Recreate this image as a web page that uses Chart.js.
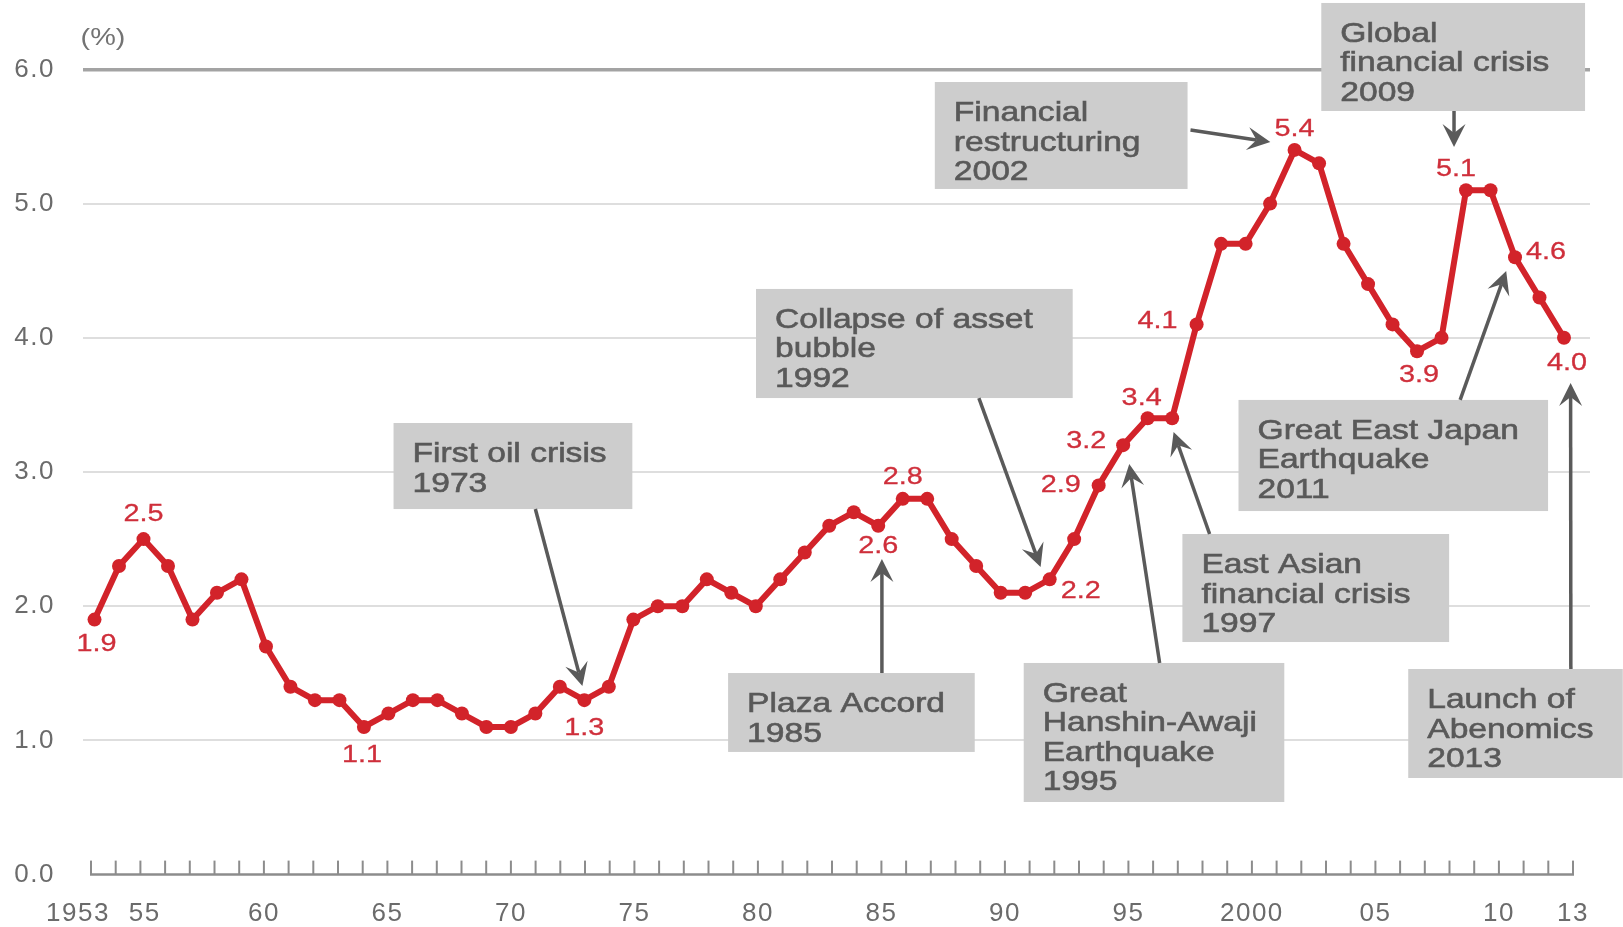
<!DOCTYPE html>
<html>
<head>
<meta charset="utf-8">
<script src="https://cdn.jsdelivr.net/npm/chart.js@4.4.1/dist/chart.umd.min.js"></script>
<style>
html,body{margin:0;padding:0;background:#ffffff;}
#wrap{width:1623px;height:927px;position:relative;}
</style>
</head>
<body>
<div id="wrap"><canvas id="c" width="1623" height="927"></canvas></div>
<script>
// ---------------- DATA ----------------
const years = [1953,1954,1955,1956,1957,1958,1959,1960,1961,1962,
               1963,1964,1965,1966,1967,1968,1969,1970,1971,1972,
               1973,1974,1975,1976,1977,1978,1979,1980,1981,1982,
               1983,1984,1985,1986,1987,1988,1989,1990,1991,1992,
               1993,1994,1995,1996,1997,1998,1999,2000,2001,2002,
               2003,2004,2005,2006,2007,2008,2009,2010,2011,2012,
               2013];
const unemploymentRate = [1.9,2.3,2.5,2.3,1.9,2.1,2.2,1.7,1.4,1.3,
                          1.3,1.1,1.2,1.3,1.3,1.2,1.1,1.1,1.2,1.4,
                          1.3,1.4,1.9,2.0,2.0,2.2,2.1,2.0,2.2,2.4,
                          2.6,2.7,2.6,2.8,2.8,2.5,2.3,2.1,2.1,2.2,
                          2.5,2.9,3.2,3.4,3.4,4.1,4.7,4.7,5.0,5.4,
                          5.3,4.7,4.4,4.1,3.9,4.0,5.1,5.1,4.6,4.3,
                          4.0];
const xTickYears  = [1953,1955,1960,1965,1970,1975,1980,1985,1990,1995,2000,2005,2010,2013];
const xTickLabels = ['1953','55','60','65','70','75','80','85','90','95','2000','05','10','13'];
const yTickValues = [0,1,2,3,4,5,6];
const yTickLabels = ['0.0','1.0','2.0','3.0','4.0','5.0','6.0'];
const unitLabel = '(%)';
const labelledYears = [1953,1955,1964,1973,1985,1986,1992,1994,1995,1996,1998,2002,2007,2009,2011,2013];
const eventTexts = [
  ['First oil crisis','1973'],
  ['Plaza Accord','1985'],
  ['Collapse of asset','bubble','1992'],
  ['Financial','restructuring','2002'],
  ['Global','financial crisis','2009'],
  ['Great East Japan','Earthquake','2011'],
  ['East Asian','financial crisis','1997'],
  ['Great','Hanshin-Awaji','Earthquake','1995'],
  ['Launch of','Abenomics','2013']
];

// ---------------- LAYOUT / STYLE ----------------
const RED = '#d2232a';
const LABEL_RED = '#cf2f3b';
const GREY_TEXT = '#6b6b6b';
const BOX_FILL = '#cdcdcd';
const BOX_TEXT = '#595959';
const ARROW = '#5a5a5a';
const FONT = '"Liberation Sans", Arial, Helvetica, sans-serif';

// label padding tweaks for the crowded first two year labels
const xLabelPad = {1953: ['', '   '], 1955: [' ', '']};

// data label offsets (px) from the point, by labelled year
const labelOffsets = {
  1953:[2,25], 1955:[0,-25], 1964:[-2,28], 1973:[0,28], 1985:[0,21], 1986:[0,-21],
  1992:[31,12], 1994:[-38,0], 1995:[-37,-4], 1996:[-6,-20], 1998:[-39,-3],
  2002:[0,-21], 2007:[2,24], 2009:[-10,-21], 2011:[31,-5], 2013:[3,26]
};
// callout boxes in data coordinates: [xLeft, yTop, xRight, yBottom, arrowFromX, arrowFromY, tipX, tipY]
const calloutLayout = [
  [1965.21,3.365,1974.96,2.724, 1971.00,2.724, 1972.92,1.405],
  [1978.87,1.502,1988.94,0.914, 1985.15,1.502, 1985.15,2.352],
  [1980.01,4.364,1992.94,3.551, 1989.11,3.551, 1991.63,2.292],
  [1987.31,5.906,1997.63,5.109, 1997.75,5.548, 2001.01,5.459],
  [2003.09,6.495,2013.86,5.690, 2008.51,5.690, 2008.51,5.422],
  [1999.71,3.537,2012.35,2.709, 2008.76,3.537, 2010.64,4.498],
  [1997.42,2.538,2008.31,1.733, 1998.53,2.538, 1997.06,3.298],
  [1990.94,1.577,2001.58,0.541, 1996.49,1.577, 1995.25,3.060],
  [2006.64,1.532,2015.40,0.720, 2013.28,1.532, 2013.27,3.663]
];

function stretchedText(ctx, txt, x, y, sx, strokeW) {
  ctx.save();
  ctx.translate(x, y);
  ctx.scale(sx, 1);
  ctx.fillText(txt, 0, 0);
  if (strokeW) { ctx.lineWidth = strokeW; ctx.strokeText(txt, 0, 0); }
  ctx.restore();
}
function drawArrow(ctx, x1, y1, x2, y2) {
  const ang = Math.atan2(y2 - y1, x2 - x1);
  const ux = Math.cos(ang), uy = Math.sin(ang);
  const L = 23, W = 11.5, N = 14;
  const bx = x2 - ux * N, by = y2 - uy * N;
  ctx.beginPath(); ctx.moveTo(x1, y1); ctx.lineTo(bx, by); ctx.stroke();
  ctx.beginPath();
  ctx.moveTo(x2, y2);
  ctx.lineTo(x2 - ux * L - uy * W, y2 - uy * L + ux * W);
  ctx.lineTo(bx, by);
  ctx.lineTo(x2 - ux * L + uy * W, y2 - uy * L - ux * W);
  ctx.closePath(); ctx.fill();
}

const decorPlugin = {
  id: 'decor',
  beforeDraw(chart) {
    // wider tick text, closer to the stretched lettering of the original
    chart.ctx.letterSpacing = '1.5px';
  },
  beforeDatasetsDraw(chart) {
    const {ctx, scales: {xAxis, y}, chartArea} = chart;
    ctx.letterSpacing = '0px';
    const y0 = y.getPixelForValue(0);
    ctx.save();
    ctx.strokeStyle = '#8c8c8c';
    ctx.lineWidth = 2.5;
    ctx.beginPath();
    ctx.moveTo(xAxis.getPixelForValue(years[0]) - 1, y0);
    ctx.lineTo(xAxis.getPixelForValue(years[years.length - 1]) + 1, y0);
    ctx.stroke();
    ctx.lineWidth = 2;
    years.forEach(v => {
      const px = xAxis.getPixelForValue(v);
      ctx.beginPath(); ctx.moveTo(px, y0); ctx.lineTo(px, y0 - 14); ctx.stroke();
    });
    ctx.fillStyle = '#737373';
    ctx.font = '24px ' + FONT;
    ctx.textAlign = 'center';
    ctx.textBaseline = 'middle';
    stretchedText(ctx, unitLabel, chartArea.left + 20, chartArea.top - 31, 1.2);
    ctx.restore();
  },
  afterDatasetsDraw(chart) {
    const {ctx, scales: {x, y}} = chart;
    const meta = chart.getDatasetMeta(0);
    ctx.save();
    ctx.letterSpacing = '0px';
    // data labels
    ctx.fillStyle = LABEL_RED;
    ctx.strokeStyle = LABEL_RED;
    ctx.font = '24px ' + FONT;
    ctx.textAlign = 'center';
    ctx.textBaseline = 'middle';
    labelledYears.forEach(yr => {
      const i = years.indexOf(yr);
      const pt = meta.data[i];
      const off = labelOffsets[yr] || [0, -22];
      stretchedText(ctx, unemploymentRate[i].toFixed(1), pt.x + off[0], pt.y + off[1], 1.2, 0.3);
    });
    // callouts
    calloutLayout.forEach((c, k) => {
      const left = x.getPixelForValue(c[0]), top = y.getPixelForValue(c[1]);
      const right = x.getPixelForValue(c[2]), bottom = y.getPixelForValue(c[3]);
      ctx.fillStyle = BOX_FILL;
      ctx.fillRect(left, top, right - left, bottom - top);
      ctx.fillStyle = BOX_TEXT;
      ctx.strokeStyle = BOX_TEXT;
      ctx.font = '28px ' + FONT;
      ctx.textAlign = 'left';
      ctx.textBaseline = 'alphabetic';
      eventTexts[k].forEach((line, j) => {
        stretchedText(ctx, line, left + 19, top + 39 + j * 29.5, 1.2, 0.6);
      });
      ctx.strokeStyle = ARROW;
      ctx.fillStyle = ARROW;
      ctx.lineWidth = 3.5;
      drawArrow(ctx, x.getPixelForValue(c[4]), y.getPixelForValue(c[5]),
                     x.getPixelForValue(c[6]), y.getPixelForValue(c[7]));
    });
    ctx.restore();
  }
};

new Chart(document.getElementById('c').getContext('2d'), {
  type: 'line',
  data: {
    datasets: [{
      label: 'Unemployment rate',
      xAxisID: 'x',
      yAxisID: 'y',
      data: years.map((yr, i) => ({x: yr, y: unemploymentRate[i]})),
      borderColor: RED,
      backgroundColor: RED,
      borderWidth: 6,
      pointRadius: 7,
      pointBackgroundColor: RED,
      pointBorderWidth: 0,
      tension: 0,
      clip: false
    }]
  },
  options: {
    responsive: false,
    animation: false,
    events: [],
    layout: {padding: {top: 69.4, right: 33, left: 0, bottom: 0}},
    plugins: {legend: {display: false}, tooltip: {enabled: false}},
    scales: {
      // scale used for the plotted points
      x: {
        type: 'linear',
        display: false,
        min: 1952.530,
        max: 2014.062
      },
      // visible year axis (tick marks and labels)
      xAxis: {
        type: 'linear',
        position: 'bottom',
        min: 1952.676,
        max: 2013.688,
        afterBuildTicks: s => { s.ticks = years.map(v => ({value: v})); },
        afterFit: s => { s.height = 52.4; },
        grid: {display: false, drawTicks: false},
        border: {display: false},
        ticks: {
          autoSkip: false, maxRotation: 0, minRotation: 0, padding: 24,
          color: GREY_TEXT, font: {family: FONT, size: 26},
          callback: v => {
            const i = xTickYears.indexOf(v);
            if (i < 0) return '';
            const pad = xLabelPad[v] || ['', ''];
            return pad[0] + xTickLabels[i] + pad[1];
          }
        }
      },
      y: {
        min: 0, max: 6,
        afterBuildTicks: s => { s.ticks = yTickValues.map(v => ({value: v})); },
        afterFit: s => { s.width = 83; },
        grid: {
          drawTicks: false,
          color: c => c.tick.value === 6 ? '#a3a3a3' : (c.tick.value === 0 ? 'rgba(0,0,0,0)' : '#dedede'),
          lineWidth: c => c.tick.value === 6 ? 3.5 : 2
        },
        border: {display: false},
        ticks: {
          padding: 28, color: GREY_TEXT, font: {family: FONT, size: 26},
          callback: v => { const i = yTickValues.indexOf(v); return i >= 0 ? yTickLabels[i] : ''; }
        }
      }
    }
  },
  plugins: [decorPlugin]
});
</script>
</body>
</html>
